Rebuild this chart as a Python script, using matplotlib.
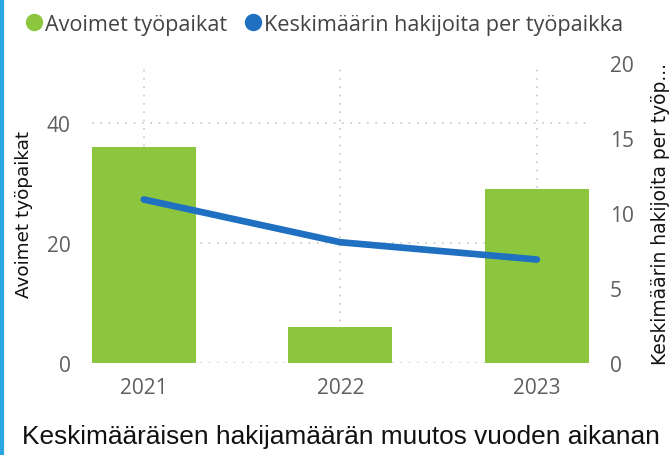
import matplotlib
matplotlib.use("Agg")
import matplotlib.pyplot as plt
from matplotlib.lines import Line2D

years = ["2021", "2022", "2023"]
open_jobs = [36, 6, 29]
applicants_per_job = [10.9, 8.05, 6.9]

bar_label = "Avoimet työpaikat"
line_label = "Keskimäärin hakijoita per työpaikka"
left_title = "Avoimet työpaikat"
right_title = "Keskimäärin hakijoita per työp..."
chart_title = "Keskimääräisen hakijamäärän muutos vuoden aikanan"

green = "#8CC63F"
blue = "#1F70C1"
tick_grey = "#605E5C"
grid_grey = "#C8C8C8"

fig = plt.figure(figsize=(6.69, 4.56), dpi=100)
ax = fig.add_axes([91.7 / 669, 1 - 364 / 456, (589 - 91.7) / 669, 300 / 456])
ax2 = ax.twinx()

x = list(range(len(years)))
ax.bar(x, open_jobs, width=0.53, color=green, zorder=2)
ax2.plot(x, applicants_per_job, color=blue, lw=4.8, solid_capstyle="round", zorder=3)

ax.set_xlim(-0.265, 2.265)
ax.set_ylim(0, 50)
ax2.set_ylim(0, 20)
ax.set_yticks([0, 20, 40])
ax2.set_yticks([0, 5, 10, 15, 20])
ax.set_xticks(x)
ax.set_xticklabels(years)

# dotted grid
ax.grid(axis="both", color=grid_grey, linestyle=(0, (1, 4)), linewidth=1.2)
ax.set_axisbelow(True)
for a in (ax, ax2):
    for s in a.spines.values():
        s.set_visible(False)
    a.tick_params(length=0, colors=tick_grey, labelsize=15, pad=15)
    for lab in a.get_xticklabels() + a.get_yticklabels():
        lab.set_family("Open Sans")
ax.tick_params(axis="x", pad=10)

ax.set_ylabel(left_title, fontsize=13.2, family="DejaVu Sans", color="#111111", labelpad=10)
ax2.set_ylabel(right_title, fontsize=13.4, family="DejaVu Sans", color="#111111", labelpad=12)

handles = [
    Line2D([0], [0], marker="o", color="none", markerfacecolor=green, markeredgecolor="none", markersize=12.5),
    Line2D([0], [0], marker="o", color="none", markerfacecolor=blue, markeredgecolor="none", markersize=12.5),
]
fig.legend(handles, [bar_label, line_label], loc="upper left", bbox_to_anchor=(0.012, 1.01),
           ncol=2, frameon=False, handlelength=0.6, handletextpad=0.2, columnspacing=0.9,
           prop={"family": "Open Sans", "size": 15.6}, labelcolor="#444444")

fig.text(22 / 669, 1 - 437 / 456, chart_title, fontsize=18.9, family="Liberation Sans",
         color="#111111", va="center", ha="left")

# left border line
fig.add_artist(Line2D([0.003, 0.003], [0, 1], color="#2AA7E1", lw=3, transform=fig.transFigure))

fig.savefig("out.png", dpi=100, facecolor="white")
